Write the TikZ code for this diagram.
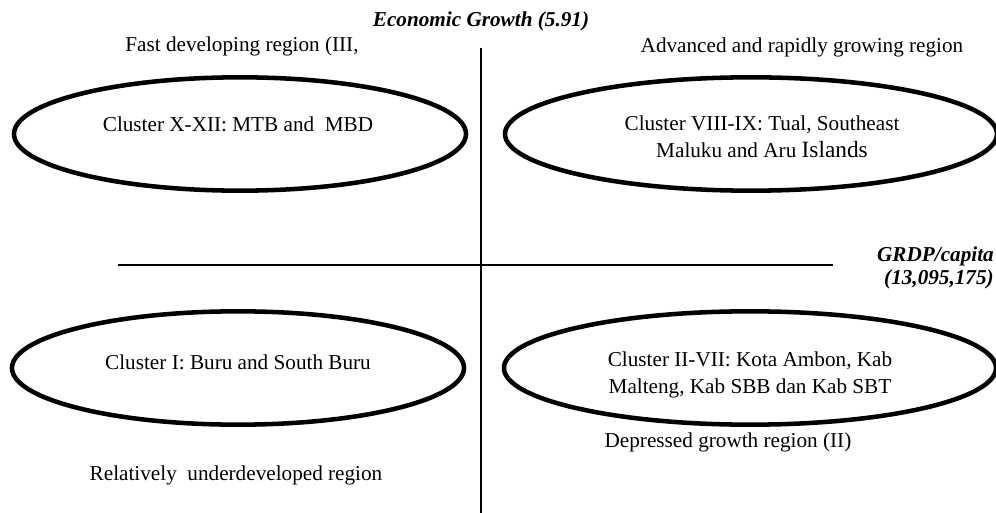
\documentclass[tikz,border=0pt]{standalone}
\usepackage{fontspec}
\setmainfont{Liberation Serif}
\usetikzlibrary{shapes.geometric}
\begin{document}
\begin{tikzpicture}[x=0.75pt,y=-0.75pt,
  oval/.style={draw, ellipse, line width=3.4pt, inner sep=0pt},
  lbl/.style={font=\fontsize{15.9}{20.3}\selectfont, inner sep=0pt, align=center},
  axislbl/.style={font=\fontsize{15.9}{15}\selectfont\bfseries\itshape, inner sep=0pt, align=right},
  axisline/.style={line width=1.1pt}]
\useasboundingbox (0,0) rectangle (996,513);
\clip (0,0) rectangle (996,513);
% axes
\coordinate (vtop) at (481,48);
\coordinate (vbot) at (481,513);
\coordinate (hl) at (118,265);
\coordinate (hr) at (833,265);
\draw[axisline] (vtop) -- (vbot);
\draw[axisline] (hl) -- (hr);
% ellipses
\node[oval, minimum width=339pt, minimum height=85pt] (e1) at (240,134) {};
\node[oval, minimum width=369pt, minimum height=85pt] (e2) at (751,134) {};
\node[oval, minimum width=339pt, minimum height=85pt] (e3) at (238,368) {};
\node[oval, minimum width=369pt, minimum height=85pt] (e4) at (750,368) {};
% ellipse texts
\node[lbl] (t1) at (238,124) {Cluster X-XII: MTB and\ \ MBD};
\node[lbl] (t2) at (762,137) {Cluster VIII-IX: Tual, Southeast\\Maluku and Aru {\fontsize{17.5}{20.3}\selectfont Islands}};
\node[lbl] (t3) at (238,362) {Cluster I: Buru and South Buru};
\node[lbl] (t4) at (750,375) {Cluster II-VII: Kota Ambon, Kab\\Malteng, Kab SBB dan Kab SBT};
% region labels
\node[lbl] (r3) at (242,46) {Fast developing region (III,};
\node[lbl] (r4) at (802,47) {Advanced and rapidly growing region};
\node[lbl] (r1) at (236,475) {Relatively\ \ underdeveloped region};
\node[lbl] (r2) at (728,442) {Depressed growth region (II)};
% axis labels
\node[axislbl] (ax1) at (481,21) {Economic Growth (5.91)};
\node[axislbl, anchor=east] (ax2) at (994,268) {GRDP/capita\\[2pt](13,095,175)};
\end{tikzpicture}
\end{document}
